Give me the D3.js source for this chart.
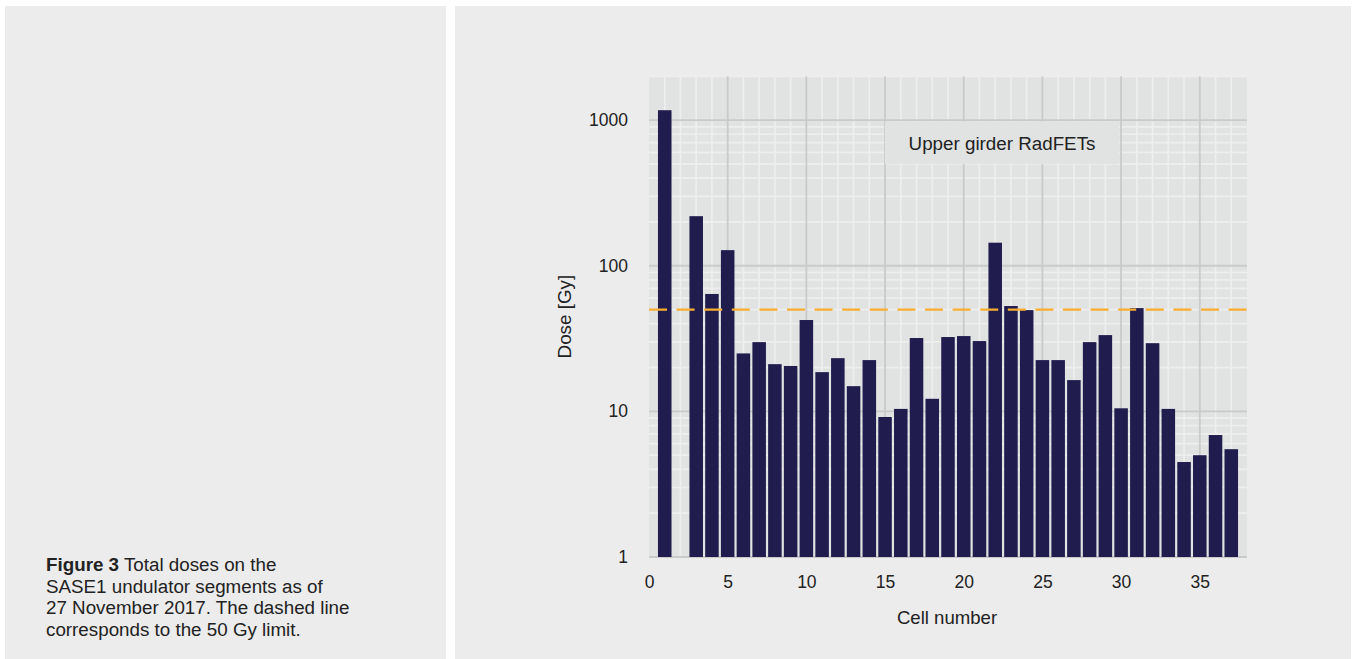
<!DOCTYPE html>
<html>
<head>
<meta charset="utf-8">
<script src="https://cdn.jsdelivr.net/npm/d3@7"></script>
<style>
  html, body { margin: 0; padding: 0; background: #fff; }
  svg { display: block; font-family: "Liberation Sans", Arial, Helvetica, sans-serif; }
</style>
</head>
<body>
<svg id="chart" width="1356" height="659"></svg>
<script>
// cell numbers and total dose [Gy] (cell 2 has no value)
const cells = [1, 3, 4, 5, 6, 7, 8, 9, 10, 11, 12, 13, 14, 15, 16, 17, 18, 19, 20,
  21, 22, 23, 24, 25, 26, 27, 28, 29, 30, 31, 32, 33, 34, 35, 36, 37];
const doses = [1170, 219, 64, 128, 25.0, 29.9, 21.1, 20.5, 42.4, 18.6, 23.2, 14.9, 22.5, 9.15, 10.4, 31.9, 12.2, 32.4, 32.9,
  30.4, 144, 52.9, 49.6, 22.5, 22.5, 16.4, 29.9, 33.4, 10.5, 51.2, 29.4, 10.4, 4.49, 5.0, 6.88, 5.5];
const xTicks = [0, 5, 10, 15, 20, 25, 30, 35];
const yTicks = [1, 10, 100, 1000];
const doseLimit = 50;
const panelLabel = "Upper girder RadFETs";
const captionLines = [
  ["Figure 3", " Total doses on the"],
  ["", "SASE1 undulator segments as of"],
  ["", "27 November 2017. The dashed line"],
  ["", "corresponds to the 50 Gy limit."]
];

const svg = d3.select("#chart");

// two grey page panels
svg.append("rect").attr("x", 5).attr("y", 6).attr("width", 441).attr("height", 653).attr("fill", "#ececec");
svg.append("rect").attr("x", 455).attr("y", 6).attr("width", 896).attr("height", 653).attr("fill", "#ececec");

// caption
const cap = svg.append("text").attr("fill", "#222").attr("font-size", 18.8);
captionLines.forEach((l, i) => {
  const t = cap.append("tspan").attr("x", 46).attr("y", 571 + i * 21.7);
  if (l[0]) t.append("tspan").attr("font-weight", "bold").text(l[0]);
  t.append("tspan").text(l[1]);
});

// plot
const p = { left: 649, top: 76.3, right: 1247, bottom: 557 };
const x = d3.scaleLinear().domain([0, 38]).range([p.left, p.right]);
const y = d3.scaleLog().domain([1, 2000]).range([p.bottom, p.top]);

const g = svg.append("g");
g.append("rect").attr("x", p.left).attr("y", p.top)
  .attr("width", p.right - p.left).attr("height", p.bottom - p.top).attr("fill", "#e1e2e2");

// minor grid
const minorY = [];
[1, 10, 100, 1000].forEach(d => { for (let k = 2; k <= 9; k++) if (d * k <= 2000) minorY.push(d * k); });
g.selectAll(".ymin").data(minorY).enter().append("line")
  .attr("x1", p.left).attr("x2", p.right).attr("y1", d => y(d)).attr("y2", d => y(d))
  .attr("stroke", "#eeeeee").attr("stroke-width", 1.7);
g.selectAll(".xmin").data(d3.range(1, 38).filter(d => d % 5 !== 0)).enter().append("line")
  .attr("y1", p.top).attr("y2", p.bottom).attr("x1", d => x(d)).attr("x2", d => x(d))
  .attr("stroke", "#eeeeee").attr("stroke-width", 1.7);

// major grid
g.selectAll(".ymaj").data(yTicks).enter().append("line")
  .attr("x1", p.left).attr("x2", p.right).attr("y1", d => y(d)).attr("y2", d => y(d))
  .attr("stroke", "#c9caca").attr("stroke-width", 1.8);
g.selectAll(".xmaj").data(xTicks.filter(d => d > 0)).enter().append("line")
  .attr("y1", p.top).attr("y2", p.bottom).attr("x1", d => x(d)).attr("x2", d => x(d))
  .attr("stroke", "#c9caca").attr("stroke-width", 1.8);

// label box
g.append("rect").attr("x", 885).attr("y", 121.5).attr("width", 234).attr("height", 42.5).attr("fill", "#e1e2e2");
g.append("text").attr("x", 1002).attr("y", 149.5).attr("text-anchor", "middle")
  .attr("font-size", 18.8).attr("fill", "#222").text(panelLabel);

// bars
const bw = 0.86;
g.selectAll(".bar").data(cells).enter().append("rect")
  .attr("x", (d) => x(d - bw / 2)).attr("width", x(bw) - x(0))
  .attr("y", (d, i) => y(doses[i])).attr("height", (d, i) => y(1) - y(doses[i]))
  .attr("fill", "#211c4e");

// limit line
g.append("line").attr("x1", p.left).attr("x2", p.right)
  .attr("y1", y(doseLimit)).attr("y2", y(doseLimit))
  .attr("stroke", "#f9ad2e").attr("stroke-width", 2.2).attr("stroke-dasharray", "18,9.6");

// axes (labels only, no ticks or domain)
const xAxis = svg.append("g").attr("transform", `translate(0,${p.bottom})`)
  .call(d3.axisBottom(x).tickValues(xTicks).tickSize(0).tickPadding(19));
const yAxis = svg.append("g").attr("transform", `translate(${p.left},0)`)
  .call(d3.axisLeft(y).tickValues(yTicks).tickFormat(d3.format("d")).tickSize(0).tickPadding(21));
[xAxis, yAxis].forEach(a => {
  a.select(".domain").remove();
  a.selectAll("text").attr("font-size", 17.5).attr("fill", "#222")
    .attr("font-family", "Liberation Sans, Arial, sans-serif");
});

svg.append("text").attr("x", 947).attr("y", 624).attr("text-anchor", "middle")
  .attr("font-size", 18.6).attr("fill", "#222").text("Cell number");
svg.append("text").attr("transform", `translate(571,${(p.top + p.bottom) / 2}) rotate(-90)`)
  .attr("text-anchor", "middle").attr("font-size", 18.8).attr("fill", "#222").text("Dose [Gy]");
</script>
</body>
</html>
